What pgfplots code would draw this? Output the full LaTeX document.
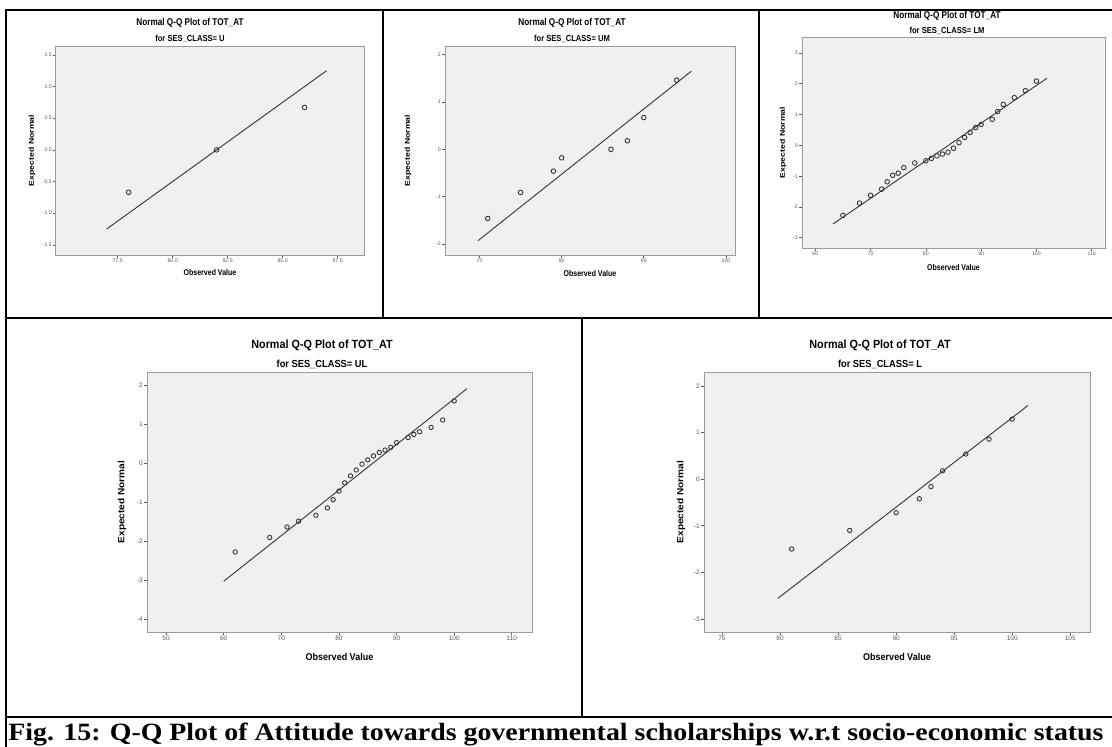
\documentclass[border=0pt]{standalone}
\usepackage{pgfplots}
\pgfplotsset{compat=1.18}
\usepackage{fontspec}
\setmainfont{Liberation Sans}
\newfontfamily\capserif{Liberation Serif}
\definecolor{bgc}{HTML}{F0F0F0}
\definecolor{framec}{HTML}{9A9A9A}
\definecolor{tickc}{HTML}{5A5A5A}
\definecolor{markc}{HTML}{303030}
\pgfplotsset{
  qq/.style={
    scale only axis,
    axis background/.style={fill=bgc},
    axis line style={framec, line width=1pt},
    tick align=outside,
    xtick pos=left, ytick pos=left,
    major tick length=3pt,
    every tick/.style={tickc, line width=0.7pt},
    tick label style={text=tickc},
    xticklabel style={inner sep=1pt},
    yticklabel style={inner sep=1pt},
  },
  qqtop/.style={qq,
    tick label style={font=\fontsize{5.2}{6}\selectfont},
    label style={font=\fontsize{7}{8}\selectfont\bfseries},
  },
  qqbot/.style={qq,
    tick label style={font=\fontsize{6.5}{7.5}\selectfont},
    label style={font=\fontsize{9}{10}\selectfont\bfseries},
  },
  qqpts/.style={only marks, mark=o, mark size=2.3pt, mark options={markc, line width=0.85pt}},
  qqline/.style={black!80, line width=0.9pt, no marks},
}
\newcommand{\vlab}[2]{\scalebox{1}[#1]{#2}}
\newcommand{\ylab}[2]{\scalebox{#1}[1]{#2}}
\begin{document}
\begin{tikzpicture}
\fill[white] (0pt,0pt) rectangle (1112pt,-747pt);

% ---------------- Panel 1: U ----------------
\begin{axis}[qqtop, at={(56pt,-255pt)}, anchor=south west, width=308pt, height=209pt,
  xmin=74.7, xmax=88.7, ymin=-1.66, ymax=1.64,
  xtick={77.5,80,82.5,85,87.5}, xticklabels={77.5,80.0,82.5,85.0,87.5},
  ytick={-1.5,-1,-0.5,0,0.5,1,1.5}, yticklabels={-1.5,-1.0,-0.5,0.0,0.5,1.0,1.5},
  xlabel={\vlab{1.2}{Observed Value}}, ylabel={\ylab{1.25}{Expected Normal}},
  xlabel style={at={([yshift=-17pt]axis description cs:0.5,0)}, anchor=center},
  ylabel style={at={([xshift=-24pt]axis description cs:0,0.5)}, anchor=center}]
\addplot[qqline] coordinates {(77,-1.25) (87,1.25)};
\addplot[qqpts] coordinates {(78,-0.67) (82,0) (86,0.67)};
\end{axis}
\node[font=\fontsize{8.2}{9}\selectfont\bfseries] at (190pt,-23pt) {\vlab{1.2}{Normal Q-Q Plot of TOT\_AT}};
\node[font=\fontsize{7.6}{9}\selectfont\bfseries] at (190pt,-38.5pt) {\vlab{1.15}{for SES\_CLASS= U}};

% ---------------- Panel 2: UM ----------------
\begin{axis}[qqtop, at={(445pt,-255pt)}, anchor=south west, width=290pt, height=209pt,
  xmin=65.8, xmax=101.1, ymin=-2.23, ymax=2.18,
  xtick={70,80,90,100}, xticklabels={70,80,90,100},
  ytick={-2,-1,0,1,2}, yticklabels={-2,-1,0,1,2},
  xlabel={\vlab{1.2}{Observed Value}}, ylabel={\ylab{1.25}{Expected Normal}},
  xlabel style={at={([yshift=-18pt]axis description cs:0.5,0)}, anchor=center},
  ylabel style={at={([xshift=-37pt]axis description cs:0,0.5)}, anchor=center}]
\addplot[qqline] coordinates {(69.8,-1.93) (95.8,1.65)};
\addplot[qqpts] coordinates {(71,-1.46) (75,-0.91) (79,-0.46) (80,-0.18) (86,0) (88,0.18) (90,0.67) (94,1.46)};
\end{axis}
\node[font=\fontsize{8.2}{9}\selectfont\bfseries] at (572pt,-23pt) {\vlab{1.2}{Normal Q-Q Plot of TOT\_AT}};
\node[font=\fontsize{7.6}{9}\selectfont\bfseries] at (572pt,-38.5pt) {\vlab{1.15}{for SES\_CLASS= UM}};

% ---------------- Panel 3: LM ----------------
\begin{axis}[qqtop, at={(802pt,-248pt)}, anchor=south west, width=303pt, height=211pt,
  xmin=57.6, xmax=112.4, ymin=-3.33, ymax=3.52,
  xtick={60,70,80,90,100,110}, xticklabels={60,70,80,90,100,110},
  ytick={-3,-2,-1,0,1,2,3}, yticklabels={-3,-2,-1,0,1,2,3},
  xlabel={\vlab{1.2}{Observed Value}}, ylabel={\ylab{1.25}{Expected Normal}},
  xlabel style={at={([yshift=-19pt]axis description cs:0.5,0)}, anchor=center},
  ylabel style={at={([xshift=-19pt]axis description cs:0,0.5)}, anchor=center}]
\addplot[qqline] coordinates {(63.2,-2.55) (101.9,2.18)};
\addplot[qqpts] coordinates {(65,-2.27) (68,-1.87) (70,-1.62) (72,-1.42) (73,-1.18) (74,-0.97) (75,-0.90) (76,-0.72) (78,-0.57) (80,-0.50) (81,-0.42) (82,-0.34) (83,-0.28) (84,-0.22) (85,-0.09) (86,0.09) (87,0.26) (88,0.42) (89,0.58) (90,0.68) (92,0.85) (93,1.10) (94,1.33) (96,1.55) (98,1.78) (100,2.09)};
\end{axis}
\node[font=\fontsize{8.2}{9}\selectfont\bfseries] at (947pt,-16pt) {\vlab{1.2}{Normal Q-Q Plot of TOT\_AT}};
\node[font=\fontsize{7.6}{9}\selectfont\bfseries] at (947pt,-31pt) {\vlab{1.15}{for SES\_CLASS= LM}};

% ---------------- Panel 4: UL ----------------
\begin{axis}[qqbot, at={(147pt,-632pt)}, anchor=south west, width=385pt, height=260pt,
  xmin=46.7, xmax=113.5, ymin=-4.33, ymax=2.33,
  xtick={50,60,70,80,90,100,110}, xticklabels={50,60,70,80,90,100,110},
  ytick={-4,-3,-2,-1,0,1,2}, yticklabels={-4,-3,-2,-1,0,1,2},
  xlabel={\vlab{1.1}{Observed Value}}, ylabel={\ylab{1.12}{Expected Normal}},
  xlabel style={at={([yshift=-25pt]axis description cs:0.5,0)}, anchor=center},
  ylabel style={at={([xshift=-25pt]axis description cs:0,0.5)}, anchor=center}]
\addplot[qqline] coordinates {(60,-3.03) (102.2,1.9)};
\addplot[qqpts, mark size=2.2pt] coordinates {(62,-2.28) (68,-1.91) (71,-1.64) (73,-1.49) (76,-1.34) (78,-1.15) (79,-0.94) (80,-0.72) (81,-0.51) (82,-0.33) (83,-0.18) (84,-0.03) (85,0.08) (86,0.18) (87,0.27) (88,0.33) (89,0.40) (90,0.52) (92,0.65) (93,0.73) (94,0.80) (96,0.91) (98,1.10) (100,1.59)};
\end{axis}
\node[font=\fontsize{10.8}{12}\selectfont\bfseries] at (322pt,-345pt) {\vlab{1.1}{Normal Q-Q Plot of TOT\_AT}};
\node[font=\fontsize{9.3}{11}\selectfont\bfseries] at (322pt,-364pt) {\vlab{1.1}{for SES\_CLASS= UL}};

% ---------------- Panel 5: L ----------------
\begin{axis}[qqbot, at={(704pt,-632pt)}, anchor=south west, width=386pt, height=260pt,
  xmin=73.45, xmax=106.7, ymin=-3.28, ymax=2.3,
  xtick={75,80,85,90,95,100,105}, xticklabels={75,80,85,90,95,100,105},
  ytick={-3,-2,-1,0,1,2}, yticklabels={-3,-2,-1,0,1,2},
  xlabel={\vlab{1.1}{Observed Value}}, ylabel={\ylab{1.12}{Expected Normal}},
  xlabel style={at={([yshift=-25pt]axis description cs:0.5,0)}, anchor=center},
  ylabel style={at={([xshift=-23pt]axis description cs:0,0.5)}, anchor=center}]
\addplot[qqline] coordinates {(79.8,-2.56) (101.35,1.58)};
\addplot[qqpts, mark size=2.2pt] coordinates {(81,-1.50) (86,-1.10) (90,-0.72) (92,-0.42) (93,-0.16) (94,0.18) (96,0.54) (98,0.86) (100,1.29)};
\end{axis}
\node[font=\fontsize{10.8}{12}\selectfont\bfseries] at (880pt,-345pt) {\vlab{1.1}{Normal Q-Q Plot of TOT\_AT}};
\node[font=\fontsize{9.3}{11}\selectfont\bfseries] at (880pt,-364pt) {\vlab{1.1}{for SES\_CLASS= L}};

% ---------------- table borders ----------------
\begin{scope}[line width=2pt, black]
\draw (5pt,-10pt) -- (1112pt,-10pt);
\draw (6pt,-10pt) -- (6pt,-747pt);
\draw (5pt,-318pt) -- (1112pt,-318pt);
\draw (5pt,-717pt) -- (1112pt,-717pt);
\draw (383pt,-10pt) -- (383pt,-318pt);
\draw (759pt,-10pt) -- (759pt,-318pt);
\draw (582pt,-318pt) -- (582pt,-717pt);
\end{scope}

% ---------------- caption ----------------
\node[anchor=base, inner sep=0pt] at (556pt,-740pt)
  {\resizebox{1095pt}{17.5pt}{\capserif\bfseries Fig. 15: Q-Q Plot of Attitude towards governmental scholarships w.r.t socio-economic status}};

\pgfresetboundingbox
\path[use as bounding box] (0pt,0pt) rectangle (1112pt,-747pt);
\end{tikzpicture}
\end{document}
